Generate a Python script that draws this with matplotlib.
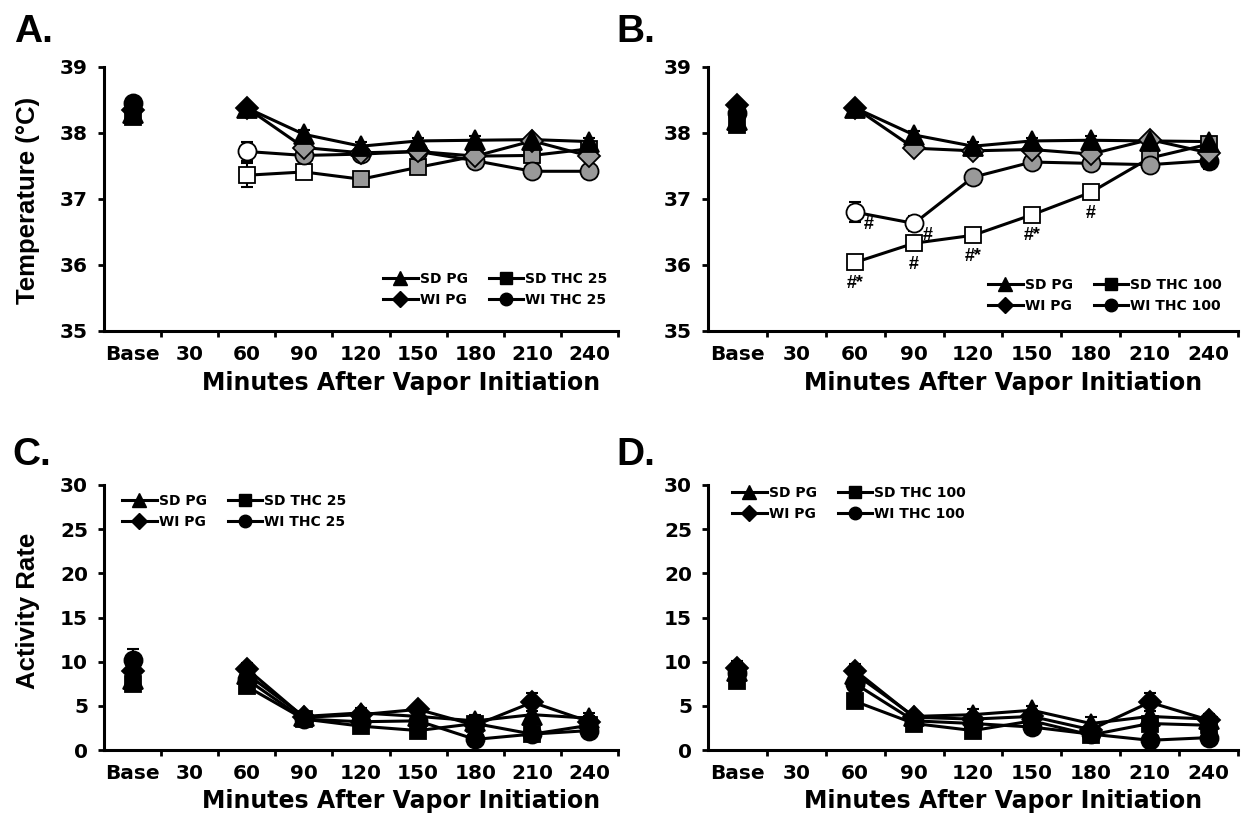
import numpy as np
import matplotlib
matplotlib.use("Agg")
import matplotlib.pyplot as plt
from matplotlib.lines import Line2D

plt.rcParams['font.family'] = ['DejaVu Sans']
plt.rcParams['font.weight'] = 'bold'
NARROW = ['Liberation Sans', 'DejaVu Sans']

categories = ['Base', '30', '60', '90', '120', '150', '180', '210', '240']
nan = np.nan

# ---- Panel A: temperature, THC 25 ----
a_sd_pg = [38.30, nan, 38.38, 37.98, 37.80, 37.88, 37.89, 37.90, 37.87]
a_wi_pg = [38.35, nan, 38.38, 37.78, 37.70, 37.72, 37.65, 37.88, 37.65]
a_sd_thc = [38.25, nan, 37.36, 37.41, 37.30, 37.48, 37.65, 37.66, 37.76]
a_wi_thc = [38.45, nan, 37.72, 37.66, 37.68, 37.72, 37.58, 37.42, 37.42]
a_sd_pg_err = [0.08, nan, 0.06, 0.06, 0.06, 0.05, 0.06, 0.05, 0.06]
a_wi_pg_err = [0.08, nan, 0.05, 0.06, 0.06, 0.05, 0.06, 0.05, 0.06]
a_sd_thc_err = [0.10, nan, 0.18, 0.10, 0.10, 0.08, 0.08, 0.08, 0.07]
a_wi_thc_err = [0.08, nan, 0.15, 0.08, 0.08, 0.07, 0.10, 0.08, 0.08]
a_sd_pg_fill = ['k'] * 9
a_wi_pg_fill = ['k', 'k', 'k', 'g', 'g', 'g', 'g', 'g', 'g']
a_sd_thc_fill = ['k', 'k', 'w', 'w', 'g', 'g', 'g', 'g', 'g']
a_wi_thc_fill = ['k', 'k', 'w', 'g', 'g', 'g', 'g', 'g', 'g']

# ---- Panel B: temperature, THC 100 ----
b_sd_pg = [38.20, nan, 38.38, 37.97, 37.80, 37.88, 37.89, 37.88, 37.87]
b_wi_pg = [38.42, nan, 38.38, 37.77, 37.73, 37.75, 37.68, 37.90, 37.70]
b_sd_thc = [38.12, nan, 36.04, 36.33, 36.45, 36.76, 37.10, 37.62, 37.83]
b_wi_thc = [38.30, nan, 36.80, 36.63, 37.33, 37.56, 37.54, 37.52, 37.58]
b_sd_pg_err = [0.08, nan, 0.06, 0.06, 0.07, 0.05, 0.06, 0.05, 0.06]
b_wi_pg_err = [0.08, nan, 0.05, 0.06, 0.06, 0.05, 0.06, 0.05, 0.06]
b_sd_thc_err = [0.10, nan, 0.08, 0.10, 0.08, 0.08, 0.08, 0.10, 0.07]
b_wi_thc_err = [0.08, nan, 0.15, 0.12, 0.08, 0.07, 0.10, 0.10, 0.12]
b_sd_pg_fill = ['k'] * 9
b_wi_pg_fill = ['k', 'k', 'k', 'g', 'g', 'g', 'g', 'g', 'g']
b_sd_thc_fill = ['k', 'k', 'w', 'w', 'w', 'w', 'w', 'g', 'g']
b_wi_thc_fill = ['k', 'k', 'w', 'w', 'g', 'g', 'g', 'g', 'k']
# significance marks: (series, category index, text)
b_marks = [('wi_thc', 2, '#'), ('wi_thc', 3, '#'),
           ('sd_thc', 2, '#*'), ('sd_thc', 3, '#'), ('sd_thc', 4, '#*'),
           ('sd_thc', 5, '#*'), ('sd_thc', 6, '#')]

# ---- Panel C: activity, THC 25 ----
c_sd_pg = [8.0, nan, 8.6, 3.8, 4.2, 3.8, 3.3, 4.0, 3.6]
c_wi_pg = [9.0, nan, 9.2, 3.7, 4.0, 4.6, 2.8, 5.4, 3.2]
c_sd_thc = [7.5, nan, 7.2, 3.5, 2.7, 2.2, 3.0, 1.8, 2.8]
c_wi_thc = [10.2, nan, 8.0, 3.5, 3.2, 3.3, 1.2, 1.8, 2.2]
c_sd_pg_err = [0.8, nan, 0.8, 0.5, 0.6, 0.5, 0.7, 0.9, 0.6]
c_wi_pg_err = [0.8, nan, 0.7, 0.5, 0.6, 0.5, 0.6, 1.0, 0.6]
c_sd_thc_err = [0.7, nan, 0.8, 0.5, 0.5, 0.4, 0.5, 0.4, 0.5]
c_wi_thc_err = [1.2, nan, 0.8, 0.5, 0.5, 0.5, 0.4, 0.4, 0.5]

# ---- Panel D: activity, THC 100 ----
d_sd_pg = [9.0, nan, 8.6, 3.8, 4.0, 4.5, 3.0, 3.8, 3.5]
d_wi_pg = [9.3, nan, 9.0, 3.7, 3.5, 3.8, 2.3, 5.4, 3.4]
d_sd_thc = [7.8, nan, 5.5, 3.0, 2.2, 3.3, 1.7, 3.0, 2.8]
d_wi_thc = [8.7, nan, 7.5, 3.3, 3.0, 2.6, 1.8, 1.1, 1.4]
d_sd_pg_err = [0.8, nan, 0.8, 0.5, 0.6, 0.5, 0.7, 0.6, 0.6]
d_wi_pg_err = [0.8, nan, 0.7, 0.5, 0.6, 0.5, 0.6, 1.0, 0.6]
d_sd_thc_err = [0.7, nan, 0.6, 0.5, 0.5, 0.4, 0.5, 0.5, 0.5]
d_wi_thc_err = [0.8, nan, 0.8, 0.5, 0.5, 0.8, 0.4, 0.3, 0.4]

legend_25 = ['SD PG', 'WI PG', 'SD THC 25', 'WI THC 25']
legend_100 = ['SD PG', 'WI PG', 'SD THC 100', 'WI THC 100']
temp_ticks = [35, 36, 37, 38, 39]
act_ticks = [0, 5, 10, 15, 20, 25, 30]

markers = {'sd_pg': '^', 'wi_pg': 'D', 'sd_thc': 's', 'wi_thc': 'o'}
msizes = {'sd_pg': 15, 'wi_pg': 11, 'sd_thc': 12, 'wi_thc': 13}
leg_ms = {'sd_pg': 10, 'wi_pg': 8, 'sd_thc': 8.5, 'wi_thc': 9}
colmap = {'k': 'black', 'w': 'white', 'g': '#999999'}

W, H = 1248, 819
fig = plt.figure(figsize=(W / 100, H / 100), dpi=100)


def px(xp, yp):
    return xp / W, 1 - yp / H


def make_ax(x0, x1, ytop, ybot):
    return fig.add_axes([x0 / W, 1 - ybot / H, (x1 - x0) / W, (ybot - ytop) / H])


axA = make_ax(104, 618, 67, 331)
axB = make_ax(708, 1238, 67, 331)
axC = make_ax(104, 618, 485, 750)
axD = make_ax(708, 1238, 485, 750)

x = np.arange(len(categories))


def draw(ax, data, errs, fills, order):
    for key in order:
        y = np.array(data[key], dtype=float)
        e = np.array(errs[key], dtype=float)
        ax.errorbar(x, y, yerr=e, fmt='none', ecolor='black', elinewidth=1.5,
                    capsize=4, capthick=1.5, zorder=2)
        ax.plot(x, y, '-', color='black', lw=2.2, zorder=3)
        fc = fills[key] if fills else ['k'] * len(x)
        for xi, yi, f in zip(x, y, fc):
            if np.isnan(yi):
                continue
            ax.plot([xi], [yi], marker=markers[key], ms=msizes[key],
                    mfc=colmap[f], mec='black', mew=1.3, ls='none', zorder=4)


def style(ax, ylim, yticks, ylabel, ylabel_y, letter, letter_xy, xlabel_xy,
          legend_labels, leg_xy):
    ax.set_xlim(-0.5, 8.5)
    ax.set_ylim(*ylim)
    ax.set_yticks(yticks)
    ax.set_yticklabels([str(t) for t in yticks], fontsize=14.5, fontweight='bold')
    ax.set_xticks(np.arange(0.5, 9.0, 1.0))
    ax.set_xticklabels([])
    ax.set_xticks(x, minor=True)
    ax.set_xticklabels(categories, minor=True, fontsize=14.5, fontweight='bold')
    ax.tick_params(axis='x', which='minor', length=0, pad=10)
    ax.tick_params(axis='x', which='major', length=4, width=2, direction='out')
    ax.tick_params(axis='y', length=4.5, width=2, direction='out', pad=7)
    for s in ['top', 'right']:
        ax.spines[s].set_visible(False)
    for s in ['left', 'bottom']:
        ax.spines[s].set_linewidth(2.2)
    fig.text(*px(*xlabel_xy), 'Minutes After Vapor Initiation', fontsize=17,
             fontweight='bold', ha='center', va='baseline')
    if ylabel:
        fig.text(*px(28, ylabel_y), ylabel, family=NARROW, fontsize=18.5,
                 fontweight='bold', rotation=90, ha='center', va='center')
    handles = [Line2D([], [], color='black', lw=2.2, marker=markers[k], ms=leg_ms[k],
                      mfc='black', mec='black')
               for k in ['sd_pg', 'wi_pg', 'sd_thc', 'wi_thc']]
    ax.legend(handles, legend_labels, ncol=2, loc='upper left',
              bbox_to_anchor=px(*leg_xy), bbox_transform=fig.transFigure,
              frameon=False, handlelength=2.5, handletextpad=0.15, columnspacing=1.5,
              labelspacing=0.5, borderpad=0, borderaxespad=0,
              prop={'size': 10, 'weight': 'bold'})
    fig.text(*px(*letter_xy), letter, family=NARROW, fontsize=28, fontweight='bold',
             ha='left', va='baseline')


dataA = {'sd_pg': a_sd_pg, 'wi_pg': a_wi_pg, 'sd_thc': a_sd_thc, 'wi_thc': a_wi_thc}
errA = {'sd_pg': a_sd_pg_err, 'wi_pg': a_wi_pg_err, 'sd_thc': a_sd_thc_err, 'wi_thc': a_wi_thc_err}
fillA = {'sd_pg': a_sd_pg_fill, 'wi_pg': a_wi_pg_fill, 'sd_thc': a_sd_thc_fill, 'wi_thc': a_wi_thc_fill}
dataB = {'sd_pg': b_sd_pg, 'wi_pg': b_wi_pg, 'sd_thc': b_sd_thc, 'wi_thc': b_wi_thc}
errB = {'sd_pg': b_sd_pg_err, 'wi_pg': b_wi_pg_err, 'sd_thc': b_sd_thc_err, 'wi_thc': b_wi_thc_err}
fillB = {'sd_pg': b_sd_pg_fill, 'wi_pg': b_wi_pg_fill, 'sd_thc': b_sd_thc_fill, 'wi_thc': b_wi_thc_fill}
dataC = {'sd_pg': c_sd_pg, 'wi_pg': c_wi_pg, 'sd_thc': c_sd_thc, 'wi_thc': c_wi_thc}
errC = {'sd_pg': c_sd_pg_err, 'wi_pg': c_wi_pg_err, 'sd_thc': c_sd_thc_err, 'wi_thc': c_wi_thc_err}
dataD = {'sd_pg': d_sd_pg, 'wi_pg': d_wi_pg, 'sd_thc': d_sd_thc, 'wi_thc': d_wi_thc}
errD = {'sd_pg': d_sd_pg_err, 'wi_pg': d_wi_pg_err, 'sd_thc': d_sd_thc_err, 'wi_thc': d_wi_thc_err}

order = ['sd_thc', 'wi_thc', 'wi_pg', 'sd_pg']
draw(axA, dataA, errA, fillA, order)
draw(axB, dataB, errB, fillB, order)
draw(axC, dataC, errC, None, order)
draw(axD, dataD, errD, None, order)

style(axA, (35, 39), temp_ticks, 'Temperature (°C)', 200, 'A.', (14, 42), (401, 390),
      legend_25, (383, 272))
style(axB, (35, 39), temp_ticks, None, None, 'B.', (616, 42), (1003, 390),
      legend_100, (988, 278))
style(axC, (0, 30), act_ticks, 'Activity Rate', 611, 'C.', (12, 465), (401, 808),
      legend_25, (122, 494))
style(axD, (0, 30), act_ticks, None, None, 'D.', (616, 465), (1003, 808),
      legend_100, (732, 486))

# significance marks on panel B
for key, idx, txt in b_marks:
    yv = dataB[key][idx]
    off = (10, -9) if key == 'wi_thc' else (0, -15)
    axB.annotate(txt, (x[idx], yv), xytext=off, textcoords='offset points',
                 ha='center', va='center', family=NARROW, fontsize=13, fontweight='bold')

fig.savefig('out.png', dpi=100)
